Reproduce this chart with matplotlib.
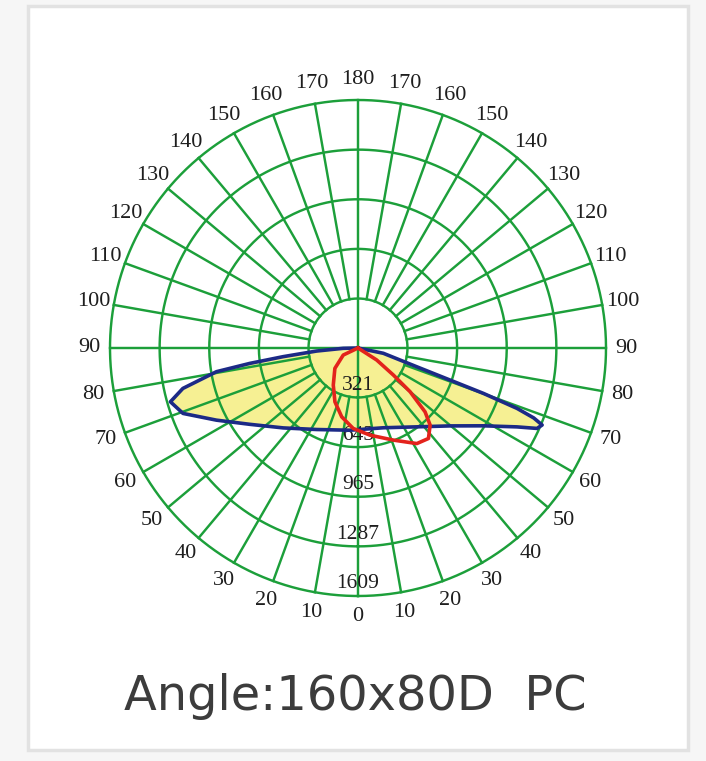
import numpy as np
import matplotlib
matplotlib.use("Agg")
import matplotlib.pyplot as plt
from matplotlib.patches import Rectangle

# photometric data (angle from nadir in deg, intensity in cd)
# negative angles = left half of the diagram
blue_deg = [-90, -88.8, -85.8, -83.4, -81.9, -80.5, -77.0, -74.0, -69.5, -63.0, -54.8,
            -43.1, -26.9, -5.6, 17.6, 36.7, 49.8, 58.2, 63.6, 65.8, 67.3, 68.3, 69.2,
            70.1, 70.8, 72.3, 78.2, 90]
blue_cd = [0, 96, 269, 489, 709, 931, 1166, 1266, 1212, 1031, 859,
           710, 593, 536, 543, 638, 783, 958, 1151, 1273, 1295, 1227, 1104,
           866, 633, 400, 168, 0]

red_deg = [-90, -64.5, -48.6, -33.7, -23.2, -13.3, -3.4, 7.9, 21.0, 31.6, 37.9,
           43.1, 46.4, 50.0, 52.6, 57.3, 62]
red_cd = [0, 106, 200, 289, 380, 459, 523, 571, 640, 728, 744,
          685, 601, 441, 289, 144, 0]

ring_values = [321, 643, 965, 1287, 1609]
ring_labels = ["321", "643", "965", "1287", "1609"]
angle_ticks = list(range(0, 190, 10))

grid_green = "#1c9f3a"
text_col = "#1e1e1e"

fig = plt.figure(figsize=(7.06, 7.61), dpi=100)
fig.patch.set_facecolor("#f6f6f6")
# white card behind everything
fig.patches.append(Rectangle((28 / 706, 1 - 750 / 761), 660 / 706, 744 / 761,
                             transform=fig.transFigure, facecolor="white",
                             edgecolor="#e2e2e2", lw=2.5, zorder=0))

cx, cy, rad = 358 / 706, 1 - 348 / 761, 248
w, h = 2 * rad / 706, 2 * rad / 761
ax = fig.add_axes([cx - w / 2, cy - h / 2, w, h], projection="polar")
ax.set_zorder(2)
ax.set_theta_zero_location("S")
ax.set_theta_direction(1)
ax.set_ylim(0, ring_values[-1])
ax.grid(False)
ax.set_xticks([])
ax.set_yticks([])
ax.spines["polar"].set_visible(False)
ax.patch.set_alpha(0)

rmax = ring_values[-1]
r_in = ring_values[0]

# yellow area + green grid
bt = np.deg2rad(blue_deg)
ax.fill(bt, blue_cd, color="#f6f093", lw=0, zorder=1)

circ = np.linspace(0, 2 * np.pi, 400)
for rv in ring_values:
    ax.plot(circ, [rv] * len(circ), color=grid_green, lw=1.75, zorder=2, clip_on=False)
for a in range(0, 360, 10):
    t = np.deg2rad(a)
    start = 0 if a % 90 == 0 else r_in
    ax.plot([t, t], [start, rmax], color=grid_green, lw=1.75, zorder=2, clip_on=False)

# curves
ax.plot(bt, blue_cd, color="#1c2a86", lw=2.6, zorder=4, solid_joinstyle="round")
ax.plot(np.deg2rad(red_deg), red_cd, color="#e3231c", lw=2.6, zorder=5,
        solid_joinstyle="round")

# radial value labels along the nadir axis
for rv, lab in zip(ring_values, ring_labels):
    ax.text(0, rv - 78, lab, ha="center", va="center", fontsize=15.5,
            family="Liberation Serif", color=text_col, zorder=3.5)

# angle labels round the outside
for a in angle_ticks:
    sides = [a] if a in (0, 180) else [a, -a]
    for s in sides:
        ax.text(np.deg2rad(s), rmax * 1.083, str(a), ha="center", va="center",
                fontsize=16, family="Liberation Serif", color=text_col)

fig.text(0.5035, 1 - 710 / 761, "Angle:160x80D  PC", ha="center", va="baseline",
         fontsize=34.5, color="#3c3c3c", family="DejaVu Sans")

fig.savefig("out.png", dpi=100, facecolor=fig.get_facecolor())
